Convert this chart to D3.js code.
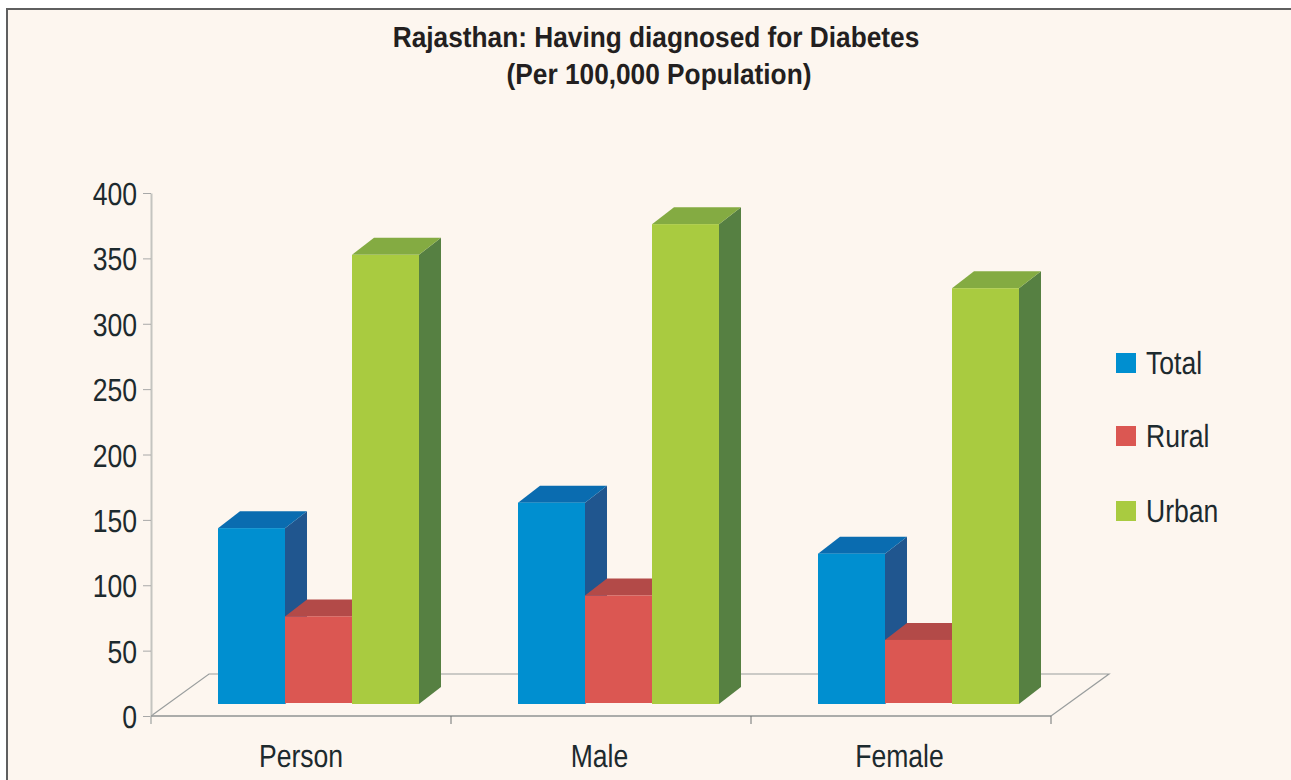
<!DOCTYPE html>
<html><head><meta charset="utf-8">
<script src="https://cdn.jsdelivr.net/npm/d3@7/dist/d3.min.js"></script>
<style>html,body{margin:0;padding:0;background:#fff;overflow:hidden}svg{display:block}text{font-family:"Liberation Sans",Arial,sans-serif;fill:#1d2a2e;text-rendering:geometricPrecision}</style>
</head><body><svg id="c" width="1291" height="780"></svg>
<script>
const titleLines = ["Rajasthan: Having diagnosed for Diabetes", "(Per 100,000 Population)"];
const categories = ["Person", "Male", "Female"];
const seriesNames = ["Total", "Rural", "Urban"];
const total = [134.5, 154, 115];
const rural = [67, 83, 49];
const urban = [343.5, 367, 318];
const yTicks = [0, 50, 100, 150, 200, 250, 300, 350, 400];
const frontColors = ["#008fd0", "#db5752", "#a9cb40"];
const sideColors = ["#20568f", "#9c3f3f", "#568042"];
const topColors = ["#0a6cb0", "#b34a48", "#84ab42"];
const seriesValues = [total, rural, urban];

const svg = d3.select("#c");
const W = 1291, H = 780, NARROW = 0.83;
svg.append("rect").attr("x", 7).attr("y", 9).attr("width", W).attr("height", H)
  .attr("fill", "#fdf6ef").attr("stroke", "#5f5f5f").attr("stroke-width", 2);

const y = d3.scaleLinear().domain([0, 400]).range([716, 193]);
const x0 = d3.scaleBand().domain(categories).range([151, 1051]);
const x1 = d3.scaleBand().domain(seriesNames).range([67, 268]);
const floorDx = 58, floorDy = 42, barDx = 22, barDy = 17, liftY = 12;
const line = d3.line();

function narrow(sel, px, py, anchor, size, weight, sx) {
  return sel.attr("transform", `translate(${px},${py}) scale(${sx || NARROW},1)`)
    .attr("text-anchor", anchor).attr("font-size", size).attr("font-weight", weight || "normal");
}

// floor
svg.append("path").attr("fill", "none").attr("stroke", "#9a9e9e").attr("stroke-width", 1.2)
  .attr("d", line([[x0.range()[0], y(0)], [x0.range()[0] + floorDx, y(0) - floorDy],
    [x0.range()[1] + floorDx, y(0) - floorDy], [x0.range()[1], y(0)]]));

// y axis
const gy = svg.append("g").attr("transform", "translate(151,0)")
  .call(d3.axisLeft(y).tickValues(yTicks).tickSize(8).tickSizeOuter(0).tickFormat(""));
gy.select(".domain").attr("stroke", "#c4c4c0").attr("stroke-width", 2);
gy.selectAll(".tick line").attr("stroke", "#a8a8a8").attr("stroke-width", 1);
svg.append("line").attr("x1", 151).attr("x2", 151).attr("y1", y(0)).attr("y2", y(0) + 8)
  .attr("stroke", "#c4c4c0").attr("stroke-width", 2);
yTicks.forEach(t => narrow(svg.append("text").text(t), 137, y(t) + 12, "end", 32));

// x axis
const xEdges = [0, 1, 2, 3].map(i => 151 + i * x0.bandwidth());
svg.append("line").attr("x1", 151).attr("x2", 1051).attr("y1", y(0)).attr("y2", y(0))
  .attr("stroke", "#8f9393").attr("stroke-width", 1.5);
svg.selectAll(".xt").data(xEdges.slice(1)).join("line").attr("class", "xt")
  .attr("x1", d => d).attr("x2", d => d).attr("y1", y(0)).attr("y2", y(0) + 8)
  .attr("stroke", "#6f7373").attr("stroke-width", 1);
categories.forEach((c, i) => narrow(svg.append("text").text(c), x0(c) + x0.bandwidth() / 2 - (i ? 1.5 : 0), 767, "middle", 32));

// bars
categories.forEach((c, ci) => {
  seriesNames.forEach((s, si) => {
    const v = seriesValues[si][ci];
    const l = x0(c) + x1(s), r = l + x1.bandwidth();
    const t = y(v) - liftY, b = y(0) - liftY - (si === 1 ? 1 : 0);
    const g = svg.append("g");
    g.append("path").attr("fill", sideColors[si])
      .attr("d", line([[r, t], [r + barDx, t - barDy], [r + barDx, b - barDy], [r, b]]) + "Z");
    g.append("path").attr("fill", topColors[si])
      .attr("d", line([[l, t], [l + barDx, t - barDy], [r + barDx, t - barDy], [r, t]]) + "Z");
    g.append("rect").attr("x", l).attr("y", t).attr("width", r - l).attr("height", b - t)
      .attr("fill", frontColors[si]);
  });
});

// title
titleLines.forEach((tl, i) => narrow(svg.append("text").text(tl).style("fill", "#231f20"), 656 + i * 3, 47 + i * 37, "middle", 29, "bold", 0.905));

// legend
const legY = d3.scaleOrdinal().domain(seriesNames).range([363, 436, 511]);
seriesNames.forEach((s, i) => {
  svg.append("rect").attr("x", 1116).attr("y", legY(s) - 10).attr("width", 20).attr("height", 20).attr("fill", frontColors[i]);
  narrow(svg.append("text").text(s), 1146, legY(s) + 11, "start", 32);
});
</script></body></html>
